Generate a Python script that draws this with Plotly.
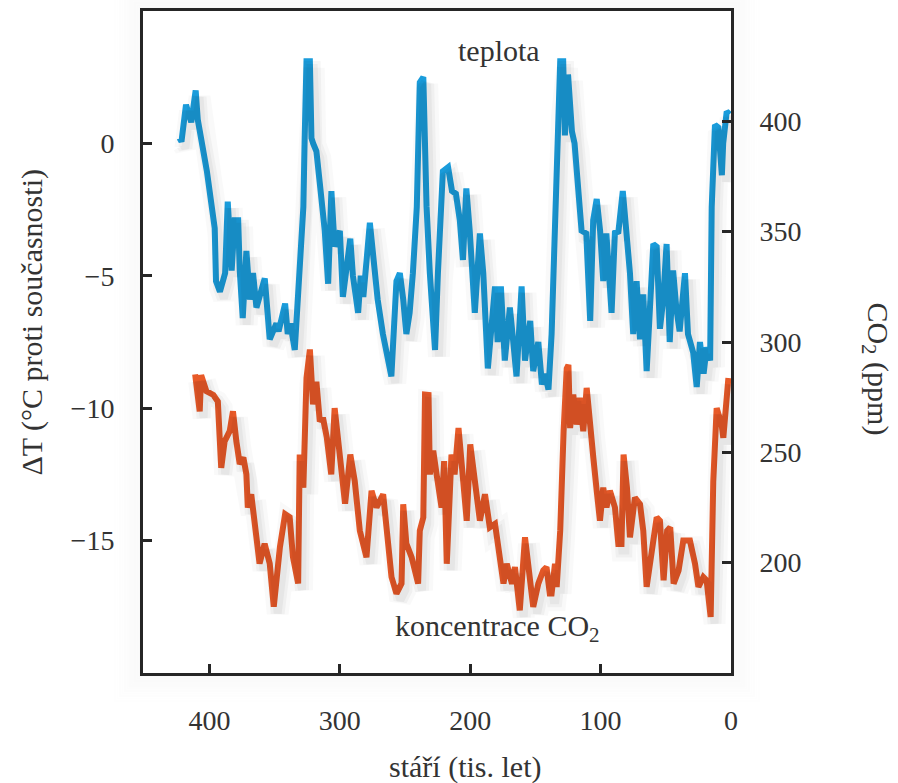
import plotly.graph_objects as go

# Temperature anomaly record (age in thousands of years, delta T in deg C)
temp_age = [423, 421.5, 418, 414, 410.6, 409, 402, 400, 396, 395, 392, 388, 386, 383, 380.7, 378,
            376.8, 374.5, 371.7, 369, 366.6, 364, 361.5, 357.6, 353.8, 348.7, 347, 342, 340, 338,
            334.6, 333, 328, 327, 325.6, 323, 321.8, 320.5, 318, 315.4, 311.6, 309, 306.5, 304,
            300, 297.7, 292, 290, 286, 284, 282, 277, 273, 271, 267, 263, 260.5, 256.6, 254,
            251.4, 249, 246.5, 244, 241, 238.7, 236, 233.5, 231, 227, 224.8, 221, 217, 214, 211,
            208, 205.6, 203, 200.4, 196.5, 192.6, 190, 186.5, 184, 181, 179, 176.5, 173.5, 169.6,
            167, 164.5, 160.6, 158, 154, 151.7, 147.8, 145, 142.7, 140, 137.6, 135, 132.6, 131,
            128.7, 127.4, 125, 122, 120, 117, 114.6, 111, 108, 105.7, 103, 100.4, 98, 95.6, 91.6,
            89, 86.5, 83, 80, 77.5, 75, 72.4, 69.8, 67.3, 64.7, 62, 59.6, 57, 54.5, 52, 49.4, 47,
            44.4, 42, 39.4, 35.3, 33, 29, 26.3, 23.8, 21, 18.7, 16, 14.8, 12.3, 9.7, 7, 6, 3.3, 1]
temp_val = [0.2, 0.07, 1.46, 0.8, 2.0, 0.9, -1.05, -1.7, -3.2, -5.2, -5.6, -4.9, -2.2, -4.8, -2.9,
            -2.9, -4.8, -6.6, -4.06, -5.9, -4.9, -6.2, -5.7, -5.1, -7.4, -6.8, -7.1, -6.05, -7.2,
            -6.8, -7.8, -6.3, -2.4, 0.2, 3.1, 3.1, 0.2, 0.0, -0.3, -1.5, -3.3, -5.3, -1.8, -3.9,
            -3.3, -5.8, -3.6, -5.0, -6.4, -5.0, -5.8, -3.0, -4.9, -5.9, -7.2, -8.2, -8.8, -5.2,
            -4.9, -5.9, -7.2, -6.4, -4.9, -2.4, 2.3, 2.5, -2.4, -4.9, -7.8, -4.9, -1.05, -0.9,
            -1.8, -1.9, -2.9, -4.4, -1.7, -3.3, -6.4, -3.4, -4.9, -8.5, -7.2, -5.4, -7.5, -5.4,
            -8.2, -6.2, -7.5, -8.8, -5.4, -8.2, -6.7, -8.6, -7.5, -9.1, -8.7, -9.3, -7.2, -2.4,
            1.3, 3.1, 3.1, 0.3, 2.6, 0.45, 0.0, -1.8, -3.3, -3.4, -6.7, -2.9, -2.1, -3.3, -5.2,
            -3.4, -6.4, -3.3, -3.4, -1.8, -3.6, -4.9, -7.2, -5.2, -7.4, -5.7, -8.6, -6.2, -3.8,
            -3.9, -7.0, -5.9, -3.8, -7.5, -4.8, -6.2, -7.1, -4.9, -7.2, -7.9, -9.2, -7.5, -8.7,
            -7.7, -8.2, -2.4, 0.7, 0.6, -1.2, 0.0, 1.2, 1.1]

# Atmospheric CO2 concentration (age in thousands of years, ppm)
co2_age = [411, 407.5, 406.4, 402.4, 397, 393.6, 391, 388.4, 384.5, 382, 379.4, 376.8, 374, 371.7,
           370.6, 368, 364, 361.6, 357.7, 353.8, 350.7, 346, 342, 338.5, 336, 332, 330.8, 328,
           325.6, 323, 320.6, 318, 315.4, 313, 310, 306.6, 304, 301.6, 299, 296, 292, 288.6,
           284.7, 279.6, 275.7, 271.9, 266.8, 263, 260.4, 256.6, 252.7, 251.4, 249, 245, 240,
           238.7, 236, 234.7, 232, 231, 228.4, 225.8, 222, 220, 218, 214.4, 212, 209, 205.3,
           202.7, 200, 196.3, 192.6, 188.7, 185, 181, 177.3, 174.5, 172, 168, 165.7, 162, 158,
           155.6, 151.7, 147.8, 144, 141.5, 139, 137.6, 135, 133.7, 131, 128.4, 126, 124.7,
           123.4, 121, 118.4, 116, 113.3, 110.7, 108, 105.6, 103, 100.5, 98, 95.5, 92.9, 89,
           86.4, 84, 82.4, 79.8, 77.5, 73.7, 69.8, 67.3, 64.7, 60.9, 57, 54.5, 51.7, 49, 46.6,
           44, 40.2, 36.6, 31.5, 27.6, 25, 21.2, 18.7, 15.6, 13.6, 11, 7.2, 5.9, 4.6, 2]
co2_val = [285.3, 268.6, 285, 277.7, 276, 273, 243, 255, 259.6, 268.6, 255, 244.7, 247.7, 240,
           225, 231, 211.5, 199.6, 208.6, 199.6, 180, 207, 222, 220.6, 202.6, 190.6, 249, 234,
           283.7, 296.6, 271.8, 282, 264, 265.7, 256.6, 240, 270, 256.6, 244.7, 226.7, 249,
           237, 214.5, 202.5, 232.6, 225, 231, 211.5, 193.5, 186, 190.6, 226.5, 208.6, 202.5,
           190.5, 214.5, 220.5, 276.2, 276, 240, 250.7, 240, 225, 246, 199.5, 249, 240, 261,
           238.6, 219, 253.6, 238.6, 219, 231, 216, 217.6, 199.5, 190.5, 199.5, 190.5, 198,
           178.4, 211.5, 199.5, 180, 190.5, 196.5, 198, 186, 186, 199.5, 189, 214.5, 259.6, 288,
           289.6, 261, 276.2, 262.6, 274.7, 259.6, 279.2, 259.6, 247.6, 232.6, 219, 234, 225,
           232.6, 225, 208.5, 208.5, 249, 234, 211.5, 229.5, 226.5, 214.5, 189, 202.5, 220.5,
           219, 192, 214.5, 216, 190.5, 196.5, 210, 210, 199.5, 189, 193.5, 192, 175.4, 237,
           270, 262.6, 256.6, 268.6, 283.7]

temp_ticks = [0, -5, -10, -15]
temp_labels = ["0", "\u22125", "\u221210", "\u221215"]
co2_ticks = [400, 350, 300, 250, 200]
age_ticks = [400, 300, 200, 100, 0]

BLUE = "#1a9cdb"
ORANGE = "#e85a28"
FRAME = "#262626"
TEXT = "#333333"
FONT = "Liberation Serif"

# plot area in pixels (used to place the free text labels)
PLOT_L, PLOT_R, PLOT_T, PLOT_B = 143, 731, 8, 673
W, H = 898, 783
PW, PH = PLOT_R - PLOT_L, PLOT_B - PLOT_T

fig = go.Figure()

# soft drop shadows under both curves, drawn on slightly nudged copies of the axes
for width, alpha in [(22, 0.025), (14, 0.035), (8, 0.04)]:
    fig.add_trace(go.Scatter(x=temp_age, y=temp_val, mode="lines", xaxis="x2", yaxis="y3",
                             line=dict(color=f"rgba(0,0,0,{alpha})", width=width),
                             hoverinfo="skip", showlegend=False))
    fig.add_trace(go.Scatter(x=co2_age, y=co2_val, mode="lines", xaxis="x2", yaxis="y4",
                             line=dict(color=f"rgba(0,0,0,{alpha})", width=width),
                             hoverinfo="skip", showlegend=False))

fig.add_trace(go.Scatter(x=temp_age, y=temp_val, mode="lines", name="teplota",
                         line=dict(color=BLUE, width=6), showlegend=False))
fig.add_trace(go.Scatter(x=co2_age, y=co2_val, mode="lines", name="CO2", yaxis="y2",
                         line=dict(color=ORANGE, width=6), showlegend=False))

axis_common = dict(showgrid=False, zeroline=False, showline=True, linecolor=FRAME, linewidth=3,
                   ticks="inside", ticklen=9, tickwidth=2.5, tickcolor=FRAME,
                   tickfont=dict(family=FONT, size=28, color=TEXT), ticklabelstandoff=20)

fig.update_layout(
    width=W, height=H,
    margin=dict(l=PLOT_L, r=W - PLOT_R, t=PLOT_T, b=H - PLOT_B),
    paper_bgcolor="white", plot_bgcolor="rgba(0,0,0,0)",
    font=dict(family=FONT, color=TEXT),
    xaxis=dict(range=[451, 0], tickvals=age_ticks, mirror=True, **axis_common),
    yaxis=dict(range=[-20, 5], tickvals=temp_ticks, ticktext=temp_labels, **axis_common),
    yaxis2=dict(range=[150, 450], tickvals=co2_ticks, overlaying="y", side="right",
                **axis_common),
    xaxis2=dict(range=[454, 3], overlaying="x", visible=False),
    yaxis3=dict(range=[-19.75, 5.25], overlaying="y", visible=False),
    yaxis4=dict(range=[153, 453], overlaying="y", visible=False),
)

# faint haze just outside the frame: thin outlines fading out with distance
for i in range(12):
    pad = 3 + 2.5 * i
    alpha = 0.022 * (1 - i / 12)
    fig.add_shape(type="rect", xref="paper", yref="paper",
                  x0=-pad / PW, x1=1 + pad / PW, y0=-pad / PH, y1=1 + pad / PH,
                  line=dict(color=f"rgba(0,0,0,{alpha:.4f})", width=2.5), layer="below")

labels = [
    ("teplota", 499, 48, 0),
    ("koncentrace CO<sub>2</sub>", 497, 628, 0),
    ("stáří (tis. let)", 465, 767, 0),
    ("\u0394T (°C proti současnosti)", 32, 321, -90),
    ("CO<sub>2</sub> (ppm)", 876, 367, 90),
]
for text, px, py, angle in labels:
    fig.add_annotation(
        text=text,
        x=(px - PLOT_L) / PW,
        y=(PLOT_B - py) / PH,
        xref="paper", yref="paper", showarrow=False,
        xanchor="center", yanchor="middle", textangle=angle,
        font=dict(family=FONT, size=30, color=TEXT),
    )

fig.write_html("out.html")
